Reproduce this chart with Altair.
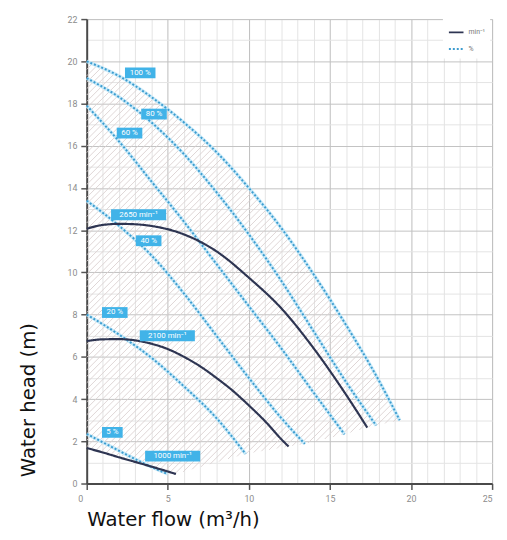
import altair as alt
import numpy as np
import pandas as pd

# ---- curve data ----
flow_100 = [0, 2, 4, 6, 8, 10, 12, 14, 16, 18, 19.3]
head_100 = [20.0, 19.3, 18.3, 17.1, 15.7, 14.0, 12.1, 9.9, 7.5, 4.9, 3.0]

flow_80 = [0, 2, 4, 6, 8, 10, 12, 14, 16, 17.85]
head_80 = [19.2, 18.3, 17.1, 15.6, 13.8, 11.8, 9.6, 7.2, 4.8, 2.75]

flow_60 = [0, 2, 4, 6, 8, 10, 12, 14, 15.9]
head_60 = [17.9, 16.2, 14.3, 12.4, 10.4, 8.4, 6.4, 4.3, 2.33]

flow_40 = [0, 2, 4, 6, 8, 10, 12, 13.45]
head_40 = [13.4, 12.2, 10.8, 9.0, 7.0, 5.0, 3.1, 1.88]

flow_20 = [0, 2, 4, 6, 8, 9.8]
head_20 = [8.0, 7.05, 5.95, 4.6, 3.1, 1.4]

flow_5 = [0, 1, 2, 3, 4, 5]
head_5 = [2.35, 1.95, 1.55, 1.15, 0.78, 0.45]

flow_2650 = [0, 1, 2, 3, 4, 6, 8, 10, 12, 14, 16, 17.3]
head_2650 = [12.07, 12.25, 12.3, 12.28, 12.2, 11.8, 11.0, 9.75, 8.3, 6.4, 4.2, 2.65]

flow_2100 = [0, 1, 2, 3, 4, 5, 6, 7, 8, 9, 10, 11, 12, 12.45]
head_2100 = [6.75, 6.83, 6.84, 6.78, 6.62, 6.37, 6.0, 5.55, 5.0, 4.4, 3.7, 2.95, 2.1, 1.75]

flow_1000 = [0, 1, 2, 3, 4, 5, 5.5]
head_1000 = [1.68, 1.47, 1.24, 1.02, 0.8, 0.57, 0.45]

label_text = ["100 %", "80 %", "60 %", "2650 min⁻¹", "40 %", "20 %", "2100 min⁻¹", "5 %", "1000 min⁻¹"]
label_x = [3.3, 4.15, 2.64, 3.2, 3.82, 1.73, 4.97, 1.58, 5.3]
label_y = [19.45, 17.5, 16.6, 12.73, 11.5, 8.1, 7.0, 2.42, 1.3]

KIND_SPEED = "min⁻¹"
KIND_PCT = "%"

curves = [
    ("100 %", KIND_PCT, flow_100, head_100),
    ("80 %", KIND_PCT, flow_80, head_80),
    ("60 %", KIND_PCT, flow_60, head_60),
    ("40 %", KIND_PCT, flow_40, head_40),
    ("20 %", KIND_PCT, flow_20, head_20),
    ("5 %", KIND_PCT, flow_5, head_5),
    ("2650", KIND_SPEED, flow_2650, head_2650),
    ("2100", KIND_SPEED, flow_2100, head_2100),
    ("1000", KIND_SPEED, flow_1000, head_1000),
]

W, H = 412, 472
XMAX, YMAX = 25, 22
pxx = W / XMAX
pxy = H / YMAX

rows = []
for name, kind, fl, hd in curves:
    for f, h in zip(fl, hd):
        rows.append({"curve": name, "kind": kind, "flow": f, "head": h})
df = pd.DataFrame(rows)

# ---- hatched operating region (between 100 % curve and the curve end points) ----
xs_dense = np.linspace(0, flow_100[-1], 3000)
top = np.interp(xs_dense, flow_100, head_100)
ends = sorted([(c[2][-1], c[3][-1]) for c in curves if c[0] not in ("5 %", "1000")])
bx = list(flow_1000) + [e[0] for e in ends]
by = list(head_1000) + [e[1] for e in ends]
bot = np.interp(xs_dense, bx, by)
slope = pxx / pxy
step = 6.5 / pxy
segs = []
for c in np.arange(-12.5, 20.5, step):
    yl = slope * xs_dense + c
    idx = np.where((yl >= bot) & (yl <= top))[0]
    if len(idx) < 2:
        continue
    i0, i1 = idx[0], idx[-1]
    segs.append({"x": xs_dense[i0], "y": yl[i0], "x2": xs_dense[i1], "y2": yl[i1]})
hatch = pd.DataFrame(segs)

# ---- label boxes ----
lab = pd.DataFrame({"text": label_text, "cx": label_x, "cy": label_y})
wpx = 6 + 5 * lab["text"].str.len()
lab["x1"] = lab["cx"] - wpx / 2 / pxx
lab["x2"] = lab["cx"] + wpx / 2 / pxx
lab["y1"] = lab["cy"] - 5.5 / pxy
lab["y2"] = lab["cy"] + 5.5 / pxy

# ---- scales / axes ----
xscale = alt.Scale(domain=[0, XMAX], nice=False, zero=False)
yscale = alt.Scale(domain=[0, YMAX], nice=False, zero=False)

xaxis = alt.Axis(
    values=list(range(0, 26)),
    title="Water flow (m³/h)",
    labelExpr="datum.value % 5 == 0 ? datum.label : ''",
    grid=True,
    gridColor={"condition": {"test": "datum.value % 5 == 0", "value": "#bdbdbd"}, "value": "#e3e3e3"},
    gridWidth=1,
    tickColor={"condition": {"test": "datum.value % 5 == 0", "value": "#555555"}, "value": "transparent"},
    tickSize=6,
    tickWidth=1.5,
    labelOffset={"condition": {"test": "datum.value == 0", "value": -9}, "value": 0},
    labelPadding=5,
    labelFont="Roboto",
    labelFontSize=9,
    labelColor="#8c8c8c",
    domainColor="#4a4a4a",
    domainWidth=2,
    titleFont="DejaVu Sans",
    titleFontSize=20,
    titleFontWeight="normal",
    titleColor="#111111",
    titleX=0,
    titleY=43,
    titleAlign="left",
    titleBaseline="alphabetic",
)
yaxis = alt.Axis(
    values=list(range(0, 23)),
    title="Water head (m)",
    labelExpr="datum.value % 2 == 0 ? datum.label : ''",
    grid=True,
    gridColor={"condition": {"test": "datum.value % 2 == 0", "value": "#c2c2c2"}, "value": "#e3e3e3"},
    gridWidth=1,
    tickColor={"condition": {"test": "datum.value % 2 == 0", "value": "#555555"}, "value": "transparent"},
    tickSize=6,
    tickWidth=1.5,
    labelPadding=4,
    labelFont="Roboto",
    labelFontSize=9,
    labelColor="#8c8c8c",
    domainColor="#4a4a4a",
    domainWidth=2,
    titleFont="DejaVu Sans",
    titleFontSize=20,
    titleFontWeight="normal",
    titleColor="#111111",
    titleX=-53,
    titleY=465,
    titleAngle=270,
    titleAlign="left",
    titleBaseline="alphabetic",
)


def X(f):
    return alt.X(f, type="quantitative", scale=xscale, axis=xaxis)


def Y(f):
    return alt.Y(f, type="quantitative", scale=yscale, axis=yaxis)


legend = alt.Legend(
    title=None,
    orient="none",
    legendX=362,
    legendY=0,
    fillColor="white",
    padding=5,
    symbolType="stroke",
    symbolSize=220,
    symbolStrokeWidth=2,
    labelFont="Roboto",
    labelFontSize=7,
    labelColor="#777777",
    rowPadding=4,
)
color = alt.Color("kind:N", scale=alt.Scale(domain=[KIND_SPEED, KIND_PCT], range=["#2e3552", "#3d9ccf"]), legend=legend)
dash = alt.StrokeDash("kind:N", scale=alt.Scale(domain=[KIND_SPEED, KIND_PCT], range=[[1, 0], [2, 2]]), legend=legend)

hatch_layer = alt.Chart(hatch).mark_rule(color="#dbd1d1", strokeWidth=0.9).encode(
    x=X("x"), y=Y("y"), x2="x2", y2="y2"
)

pct = df[df["kind"] == KIND_PCT]
spd = df[df["kind"] == KIND_SPEED]

halo = alt.Chart(pct).mark_line(interpolate="monotone", color="#c2e8f8", strokeWidth=3.5, opacity=0.9).encode(
    x=X("flow"), y=Y("head"), detail="curve:N"
)
dotted = alt.Chart(pct).mark_line(interpolate="monotone", strokeWidth=2).encode(
    x=X("flow"), y=Y("head"), detail="curve:N", color=color, strokeDash=dash
)
solid = alt.Chart(spd).mark_line(interpolate="monotone", strokeWidth=2.2).encode(
    x=X("flow"), y=Y("head"), detail="curve:N", color=color, strokeDash=dash
)

boxes = alt.Chart(lab).mark_rect(color="#41b3e8").encode(
    x=X("x1"), x2="x2", y=Y("y1"), y2="y2"
)
texts = alt.Chart(lab).mark_text(font="Roboto", fontSize=8, color="white", align="center", baseline="middle").encode(
    x=X("cx"), y=Y("cy"), text="text:N"
)

chart = alt.layer(hatch_layer, halo, dotted, solid, boxes, texts).properties(
    width=W,
    height=H,
    autosize=alt.AutoSizeParams(type="none"),
    padding={"left": 80, "top": 7, "right": 7, "bottom": 45},
).configure_view(stroke=None).configure(background="white")

chart.save("out.html", embed_options={"renderer": "svg", "actions": False})
